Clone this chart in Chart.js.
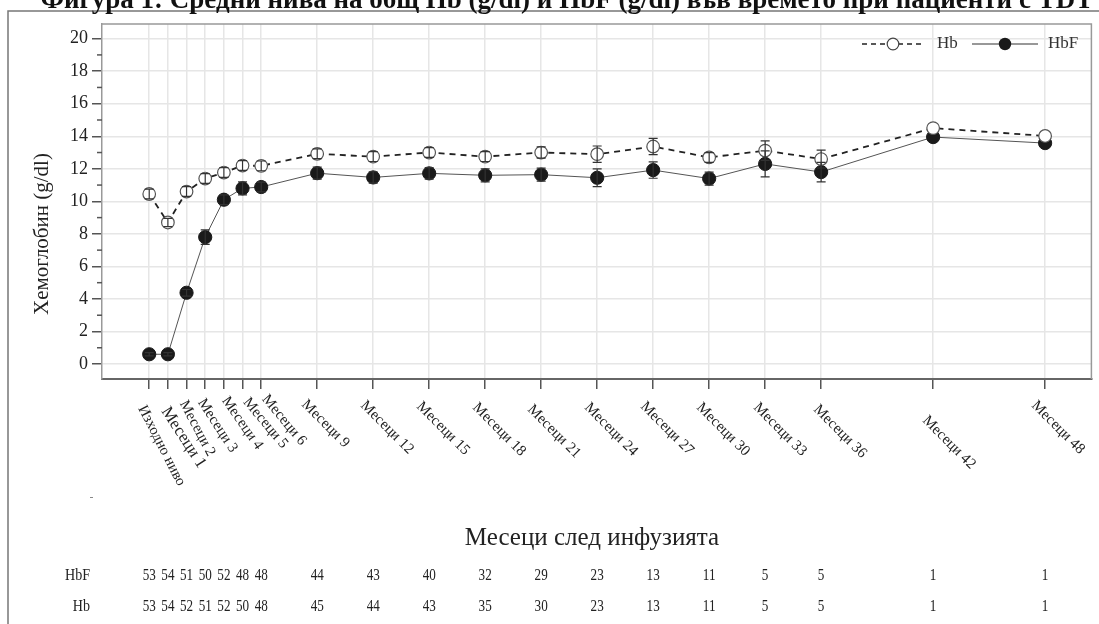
<!DOCTYPE html>
<html><head><meta charset="utf-8">
<script src="https://cdn.jsdelivr.net/npm/chart.js@4.4.1/dist/chart.umd.min.js"></script>
<style>html,body{margin:0;padding:0;background:#fff;overflow:hidden}#wrap{width:1099px;height:624px;position:relative}</style>
</head><body><div id="wrap"><canvas id="c" width="1099" height="624"></canvas></div>
<script>
// ---- data ----
const months = [0,1,2,3,4,5,6,9,12,15,18,21,24,27,30,33,36,42,48];
const tickLabels = ['Изходно ниво','Месеци 1','Месеци 2','Месеци 3','Месеци 4','Месеци 5','Месеци 6','Месеци 9','Месеци 12','Месеци 15','Месеци 18','Месеци 21','Месеци 24','Месеци 27','Месеци 30','Месеци 33','Месеци 36','Месеци 42','Месеци 48'];
const hbMean  = [10.45,8.7,10.6,11.4,11.77,12.2,12.18,12.92,12.75,13.0,12.75,13.0,12.9,13.37,12.7,13.12,12.6,14.5,14.02];
const hbErr   = [0.3,0.25,0.3,0.3,0.3,0.3,0.3,0.3,0.3,0.3,0.3,0.35,0.5,0.5,0.3,0.6,0.55,0,0];
const hbfMean = [0.6,0.6,4.38,7.8,10.1,10.8,10.88,11.73,11.47,11.72,11.6,11.64,11.45,11.92,11.4,12.3,11.8,13.95,13.58];
const hbfErr  = [0.1,0.1,0.2,0.45,0.3,0.4,0.3,0.37,0.35,0.35,0.4,0.4,0.55,0.5,0.4,0.8,0.6,0,0];
const nHbF = [53,54,51,50,52,48,48,44,43,40,32,29,23,13,11,5,5,1,1];
const nHb  = [53,54,52,51,52,50,48,45,44,43,35,30,23,13,11,5,5,1,1];
const yTicks = [0,2,4,6,8,10,12,14,16,18,20];
const yMinor = [1,3,5,7,9,11,13,15,17,19];
const seriesNames = ['Hb','HbF'];
const titleText = 'Фигура 1: Средни нива на общ Hb (g/dl) и HbF (g/dl) във времето при пациенти с TDT';
const yTitle = 'Хемоглобин (g/dl)';
const xTitle = 'Месеци след инфузията';

// ---- label styling (angle in degrees, anchor offsets in px) ----
const labelAngle = [63,57,62,57,55,50,50,45,45,45,45,45,45,45,45,45,45,45,45];
const labelDx    = [-1,4,3,2,7,9,9,-8,-5,-5,-5,-6,-5,-5,-5,-4,0,-3,-6];
const labelY     = [403,404,398,396,394,395,392,397,398,399,400,402,400,399,400,400,402,413,398];

const SERIF = '"Liberation Serif", "Times New Roman", serif';

const decor = {
  id: 'decor',
  beforeDraw(chart) {
    const ctx = chart.ctx;
    ctx.save(); ctx.fillStyle = '#fff'; ctx.fillRect(0, 0, chart.width, chart.height); ctx.restore();
  },
  afterDatasetsDraw(chart) {
    const ctx = chart.ctx, xs = chart.scales.x, ys = chart.scales.y;
    ctx.save();
    ctx.strokeStyle = '#333'; ctx.lineWidth = 1.2;
    [[hbMean, hbErr],[hbfMean, hbfErr]].forEach(([m, e]) => {
      months.forEach((mo, i) => {
        if (!e[i]) return;
        const x = xs.getPixelForValue(mo);
        const y1 = ys.getPixelForValue(m[i] - e[i]);
        const y2 = ys.getPixelForValue(m[i] + e[i]);
        ctx.beginPath();
        ctx.moveTo(x, y1); ctx.lineTo(x, y2);
        ctx.moveTo(x - 4.5, y1); ctx.lineTo(x + 4.5, y1);
        ctx.moveTo(x - 4.5, y2); ctx.lineTo(x + 4.5, y2);
        ctx.stroke();
      });
    });
    ctx.restore();
  },
  afterDraw(chart) {
    const ctx = chart.ctx, xs = chart.scales.x, ys = chart.scales.y, a = chart.chartArea;
    ctx.save();
    // outer frame
    ctx.strokeStyle = '#777'; ctx.lineWidth = 1.5;
    ctx.beginPath(); ctx.moveTo(8, 630); ctx.lineTo(8, 11); ctx.lineTo(1105, 11); ctx.stroke();
    // plot frame top/right
    ctx.strokeStyle = '#999'; ctx.lineWidth = 1.5;
    ctx.beginPath(); ctx.moveTo(a.left, a.top); ctx.lineTo(a.right, a.top); ctx.lineTo(a.right, a.bottom); ctx.stroke();
    // minor y ticks
    ctx.strokeStyle = '#555'; ctx.lineWidth = 1.5;
    yMinor.forEach(v => {
      const y = ys.getPixelForValue(v);
      ctx.beginPath(); ctx.moveTo(a.left - 5, y); ctx.lineTo(a.left, y); ctx.stroke();
    });
    // small stray mark left of the x title
    ctx.strokeStyle = '#888'; ctx.lineWidth = 1;
    ctx.beginPath(); ctx.moveTo(90, 497.5); ctx.lineTo(93, 497.5); ctx.stroke();
    // title (clipped at top)
    ctx.fillStyle = '#111';
    ctx.font = 'bold 27px ' + SERIF;
    ctx.textAlign = 'center'; ctx.textBaseline = 'alphabetic';
    ctx.fillText(titleText, 567, 8);
    // y title
    ctx.save();
    ctx.translate(42, 234); ctx.rotate(-Math.PI / 2);
    ctx.font = '21px ' + SERIF; ctx.fillStyle = '#222';
    ctx.textAlign = 'center'; ctx.textBaseline = 'middle';
    ctx.fillText(yTitle, 0, 0);
    ctx.restore();
    // x tick labels
    ctx.fillStyle = '#222';
    months.forEach((mo, i) => {
      const x = xs.getPixelForValue(mo);
      const ang = labelAngle[i] * Math.PI / 180;
      ctx.save();
      ctx.translate(x + labelDx[i], labelY[i]); ctx.rotate(ang);
      ctx.font = (i === 1 ? '17px ' : '15px ') + SERIF;
      ctx.textAlign = 'left'; ctx.textBaseline = 'top';
      ctx.fillText(tickLabels[i], 0, 0);
      ctx.restore();
    });
    // x title
    ctx.save();
    ctx.translate(592, 538); ctx.scale(1.0, 1);
    ctx.font = '25px ' + SERIF; ctx.fillStyle = '#222';
    ctx.textAlign = 'center'; ctx.textBaseline = 'middle';
    ctx.fillText(xTitle, 0, 0);
    ctx.restore();
    // table of counts
    const rows = [[seriesNames[1], nHbF, 576], [seriesNames[0], nHb, 607]];
    ctx.fillStyle = '#222';
    rows.forEach(([name, arr, y]) => {
      ctx.save();
      ctx.translate(90, y); ctx.scale(0.88, 1);
      ctx.font = '16px ' + SERIF; ctx.textAlign = 'right'; ctx.textBaseline = 'middle';
      ctx.fillText(name, 0, 0);
      ctx.restore();
      months.forEach((mo, i) => {
        const x = xs.getPixelForValue(mo);
        ctx.save();
        ctx.translate(x, y); ctx.scale(0.82, 1);
        ctx.font = '16px ' + SERIF; ctx.textAlign = 'center'; ctx.textBaseline = 'middle';
        ctx.fillText(String(arr[i]), 0, 0);
        ctx.restore();
      });
    });
    // legend
    const ly = 44;
    ctx.strokeStyle = '#222'; ctx.lineWidth = 1.6; ctx.setLineDash([5, 4]);
    ctx.beginPath(); ctx.moveTo(862, ly); ctx.lineTo(925, ly); ctx.stroke();
    ctx.setLineDash([]);
    ctx.fillStyle = '#fff'; ctx.strokeStyle = '#444'; ctx.lineWidth = 1.2;
    ctx.beginPath(); ctx.arc(893, ly, 5.8, 0, Math.PI * 2); ctx.fill(); ctx.stroke();
    ctx.strokeStyle = '#333'; ctx.lineWidth = 1.2;
    ctx.beginPath(); ctx.moveTo(972, ly); ctx.lineTo(1038, ly); ctx.stroke();
    ctx.fillStyle = '#1a1a1a';
    ctx.beginPath(); ctx.arc(1005, ly, 6.2, 0, Math.PI * 2); ctx.fill();
    ctx.fillStyle = '#333'; ctx.font = '17px ' + SERIF; ctx.textAlign = 'left'; ctx.textBaseline = 'middle';
    ctx.fillText(seriesNames[0], 937, ly);
    ctx.fillText(seriesNames[1], 1048, ly);
    ctx.restore();
  }
};

new Chart(document.getElementById('c'), {
  type: 'line',
  data: {
    datasets: [
      {
        label: seriesNames[0],
        data: months.map((m, i) => ({ x: m, y: hbMean[i] })),
        borderColor: '#222', borderWidth: 1.8, borderDash: [6, 5],
        pointRadius: 6.3, pointBorderWidth: 1.2, pointBackgroundColor: '#fff', pointBorderColor: '#555',
        tension: 0, fill: false
      },
      {
        label: seriesNames[1],
        data: months.map((m, i) => ({ x: m, y: hbfMean[i] })),
        borderColor: '#555', borderWidth: 1,
        pointRadius: 6.6, pointBorderWidth: 1, pointBackgroundColor: '#1a1a1a', pointBorderColor: '#1a1a1a',
        tension: 0, fill: false
      }
    ]
  },
  options: {
    responsive: false, animation: false, events: [],
    layout: { padding: { top: 24, right: 5, left: 0, bottom: 0 } },
    plugins: { legend: { display: false }, title: { display: false }, tooltip: { enabled: false } },
    scales: {
      x: {
        type: 'linear', min: -2.53, max: 50.48,
        afterBuildTicks: s => { s.ticks = months.map(v => ({ value: v })); },
        afterFit: s => { s.height = 245; },
        ticks: { display: false },
        grid: { color: '#e6e6e6', lineWidth: 1.5, drawTicks: true, tickLength: 10, tickColor: '#555', tickWidth: 1.5 },
        border: { display: true, color: '#666', width: 2 }
      },
      y: {
        type: 'linear', min: -0.92, max: 20.9,
        afterBuildTicks: s => { s.ticks = yTicks.map(v => ({ value: v })); },
        afterFit: s => { s.width = 102; },
        ticks: { display: true, color: '#222', font: { family: SERIF, size: 18 }, padding: 4, callback: v => String(v) },
        grid: { color: '#e6e6e6', lineWidth: 1.5, drawTicks: true, tickLength: 10, tickColor: '#555', tickWidth: 1.5 },
        border: { display: true, color: '#999', width: 1.5 }
      }
    }
  },
  plugins: [decor]
});
</script></body></html>
